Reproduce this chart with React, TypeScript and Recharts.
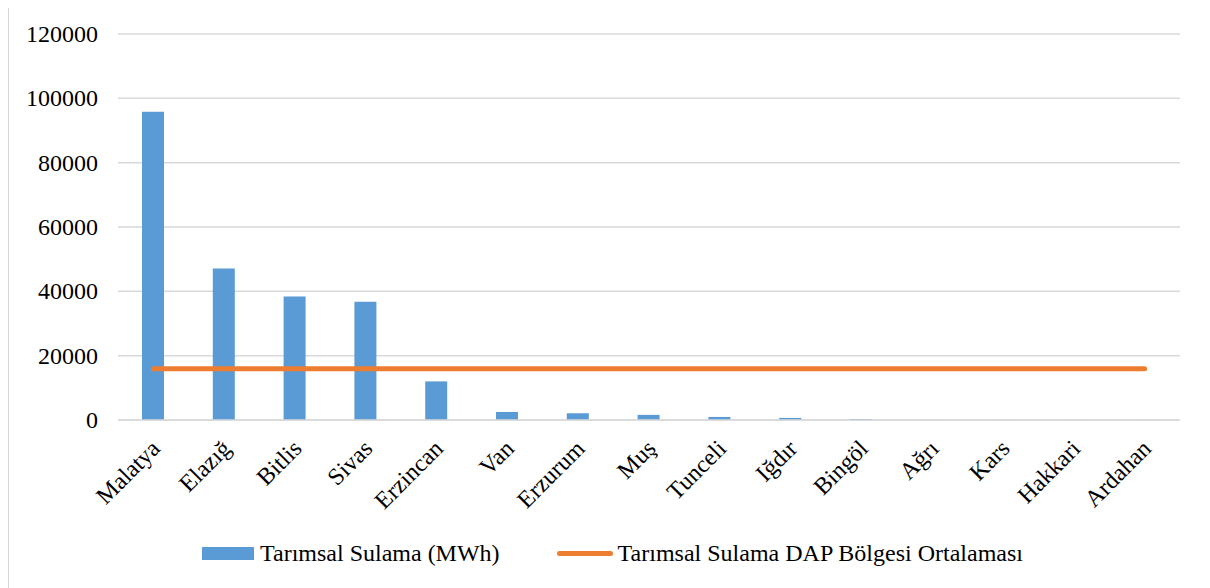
import React from "react";
import { ComposedChart, Bar, Line, XAxis, YAxis, CartesianGrid, Legend } from "recharts";

const iller = [
  "Malatya", "Elazığ", "Bitlis", "Sivas", "Erzincan", "Van", "Erzurum", "Muş",
  "Tunceli", "Iğdır", "Bingöl", "Ağrı", "Kars", "Hakkari", "Ardahan",
];
const sulama = [95800, 47100, 38400, 36800, 12000, 2500, 2100, 1600, 950, 650, 300, 40, 30, 20, 10];
const bolgeOrtalamasi = [
  15900, 15900, 15900, 15900, 15900, 15900, 15900, 15900,
  15900, 15900, 15900, 15900, 15900, 15900, 15900,
];
const yTicks = [0, 20000, 40000, 60000, 80000, 100000, 120000];

const data = iller.map((il, i) => ({ il, sulama: sulama[i], ortalama: bolgeOrtalamasi[i] }));

const FONT = "Liberation Serif";
const BLUE = "#5B9BD5";
const ORANGE = "#ED7D31";

type TickProps = { x?: number; y?: number; payload?: { value: string | number } };

const RotatedTick = ({ x = 0, y = 0, payload }: TickProps) => (
  <text
    x={x + 8}
    y={y + 22}
    transform={`rotate(-45, ${x + 8}, ${y + 22})`}
    textAnchor="end"
    fontFamily={FONT}
    fontSize={24}
    fill="#000"
  >
    {payload?.value}
  </text>
);

const YTick = ({ x = 0, y = 0, payload }: TickProps) => (
  <text x={x} y={y} dy={8} textAnchor="end" fontFamily={FONT} fontSize={24} fill="#000">
    {payload?.value}
  </text>
);

const LegendContent = () => (
  <div
    style={{
      display: "flex",
      justifyContent: "center",
      alignItems: "center",
      fontFamily: FONT,
      fontSize: 24,
      color: "#000",
      height: 56,
      paddingLeft: 36,
      paddingTop: 3,
      boxSizing: "border-box",
    }}
  >
    <span style={{ display: "inline-block", width: 52, height: 13, background: BLUE, marginRight: 6 }} />
    <span>Tarımsal Sulama (MWh)</span>
    <span
      style={{ display: "inline-block", width: 56, height: 5, background: ORANGE, marginLeft: 57, marginRight: 5, borderRadius: 3 }}
    />
    <span>Tarımsal Sulama DAP Bölgesi Ortalaması</span>
  </div>
);

export default function App() {
  return (
    <div style={{ width: 1193, height: 590, border: "1px solid #d9d9d9", marginTop: -3, background: "#fff", fontFamily: FONT }}>
      <ComposedChart
        width={1193}
        height={590}
        data={data}
        margin={{ top: 28, right: 22, bottom: 16, left: 0 }}
      >
        <CartesianGrid vertical={false} stroke="#d9d9d9" strokeWidth={1.5} />
        <XAxis
          dataKey="il"
          axisLine={{ stroke: "#d9d9d9", strokeWidth: 1.5 }}
          tickLine={false}
          interval={0}
          height={104}
          tick={<RotatedTick />}
        />
        <YAxis
          width={109}
          domain={[0, 120000]}
          ticks={yTicks}
          axisLine={false}
          tickLine={false}
          tickMargin={14}
          tick={<YTick />}
        />
        <Bar dataKey="sulama" name="Tarımsal Sulama (MWh)" fill={BLUE} barSize={22} isAnimationActive={false} />
        <Line
          dataKey="ortalama"
          name="Tarımsal Sulama DAP Bölgesi Ortalaması"
          stroke={ORANGE}
          strokeWidth={5}
          strokeLinecap="round"
          dot={false}
          activeDot={false}
          isAnimationActive={false}
        />
        <Legend verticalAlign="bottom" height={56} content={<LegendContent />} />
      </ComposedChart>
    </div>
  );
}
